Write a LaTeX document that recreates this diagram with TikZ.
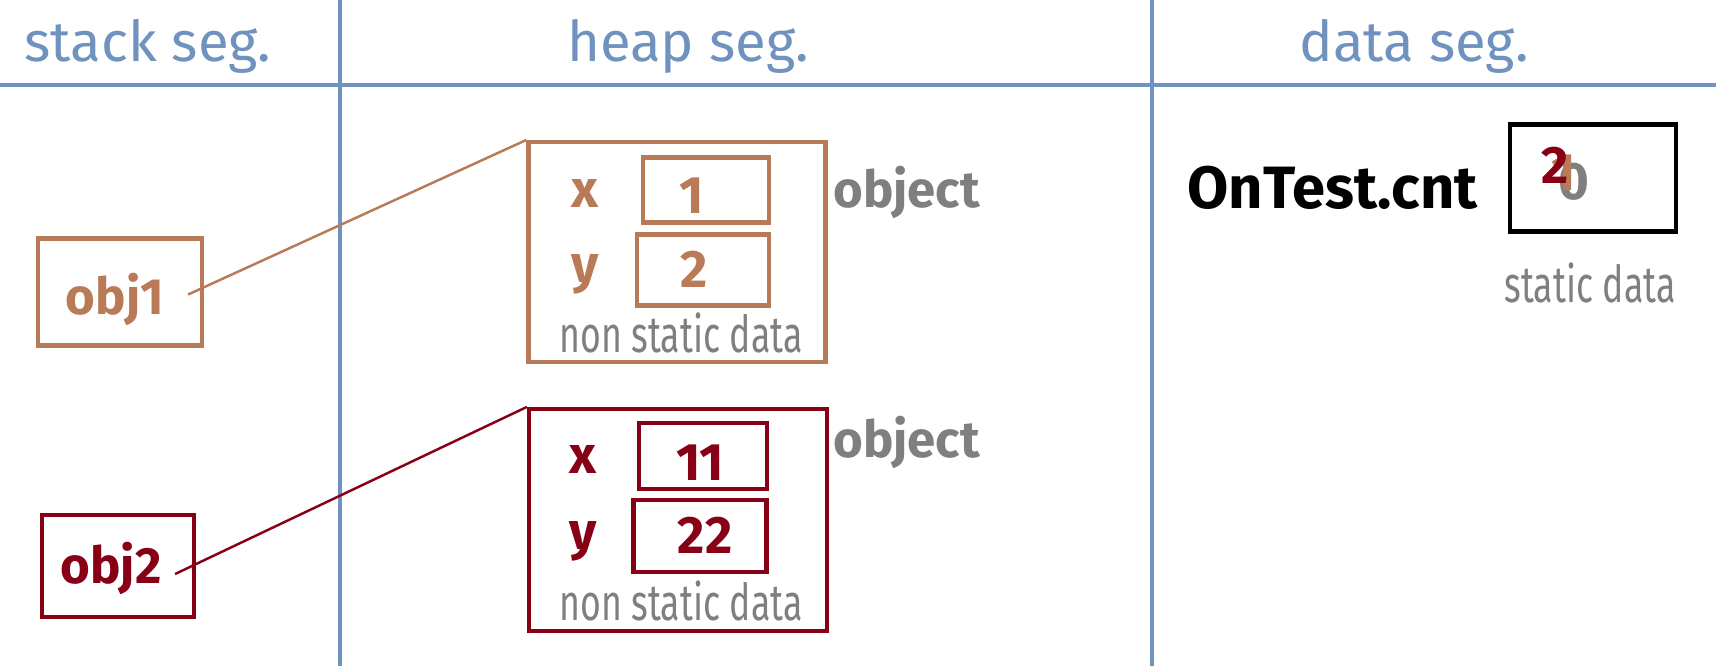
\documentclass[tikz,border=0pt]{standalone}
\usepackage{fontspec}
\setmainfont{Fira Sans}
\newfontfamily\narrowfont[FakeStretch=0.7]{Fira Sans}
\usetikzlibrary{positioning}
\definecolor{segblue}{RGB}{112,146,190}
\definecolor{objbrown}{RGB}{185,122,87}
\definecolor{objred}{RGB}{136,0,21}
\definecolor{notegray}{RGB}{127,127,127}
\tikzset{
  seghead/.style={text=segblue, anchor=base, inner sep=0pt, font=\fontsize{32}{32}\selectfont},
  segline/.style={draw=segblue, line width=2.2pt},
  boxed/.style={draw, line width=2.4pt, inner sep=0pt},
  bigtxt/.style={anchor=base, inner sep=0pt, font=\bfseries\fontsize{29}{29}\selectfont},
  valtxt/.style={anchor=base, inner sep=0pt, font=\bfseries\fontsize{30}{30}\selectfont},
  fldtxt/.style={anchor=base, inner sep=0pt, font=\bfseries\fontsize{30}{30}\selectfont},
  notetxt/.style={text=notegray, anchor=base, inner sep=0pt, font=\narrowfont\fontsize{29}{29}\selectfont},
  link/.style={line width=1.4pt}
}
\begin{document}
\begin{tikzpicture}[x=0.02cm, y=-0.02cm]
    \useasboundingbox (0,0) rectangle (1716,666);

    % Segments
    \draw[segline, line width=2.8pt] (0,85) -- (1716,85);
    \draw[segline] (340,0) -- (340,666);
    \draw[segline] (1152,0) -- (1152,666);
    \node[seghead] (stackhd) at (148,61) {stack seg.};
    \node[seghead] (heaphd) at (688,61) {heap seg.};
    \node[seghead] (datahd) at (1414,61) {data seg.};

    % Stack references
    \node[boxed, draw=objbrown, minimum width=3.28cm, minimum height=2.14cm] (obj1box) at (120,292) {};
    \node[bigtxt, text=objbrown] (obj1) at (115,314) {obj1};
    \node[boxed, draw=objred, minimum width=3.04cm, minimum height=2.04cm] (obj2box) at (118,566) {};
    \node[bigtxt, text=objred] (obj2) at (111,583) {obj2};

    % First object
    \node[boxed, draw=objbrown, minimum width=5.94cm, minimum height=4.4cm] (heapA) at (677,252) {};
    \node[boxed, draw=objbrown, minimum width=2.52cm, minimum height=1.3cm] (xA) at (706,190) {};
    \node[boxed, draw=objbrown, minimum width=2.64cm, minimum height=1.42cm] (yA) at (703,270) {};
    \node[valtxt, text=objbrown] (xAval) at (692,213) {1};
    \node[valtxt, text=objbrown] (yAval) at (694,287) {2};
    \node[fldtxt, text=objbrown] (xAlbl) at (585,207) {x};
    \node[fldtxt, text=objbrown] (yAlbl) at (585,282) {y};
    \node[notetxt] (nsA) at (681,352) {non static data};
    \node[bigtxt, text=notegray, anchor=base west] (objA) at (833,207) {object};

    % Second object
    \node[boxed, draw=objred, minimum width=5.96cm, minimum height=4.44cm] (heapB) at (678,520) {};
    \node[boxed, draw=objred, minimum width=2.56cm, minimum height=1.32cm] (xB) at (703,456) {};
    \node[boxed, draw=objred, minimum width=2.66cm, minimum height=1.44cm] (yB) at (700,536) {};
    \node[valtxt, text=objred] (xBval) at (700,480) {11};
    \node[valtxt, text=objred] (yBval) at (705,553) {22};
    \node[fldtxt, text=objred] (xBlbl) at (583,473) {x};
    \node[fldtxt, text=objred] (yBlbl) at (583,549) {y};
    \node[notetxt] (nsB) at (681,620) {non static data};
    \node[bigtxt, text=notegray, anchor=base west] (objB) at (833,457) {object};

    % References
    \draw[link, objbrown] ([xshift=-0.32cm, yshift=-0.05cm]obj1box.east) -- (heapA.north west);
    \draw[link, objred] ([xshift=-0.42cm, yshift=-0.16cm]obj2box.east) -- (heapB.north west);

    % Static data
    \node[bigtxt, anchor=base east, font=\bfseries\fontsize{34}{34}\selectfont] (cnt) at (1478,208) {OnTest.cnt};
    \node[boxed, draw=black, minimum width=3.32cm, minimum height=2.14cm] (cntbox) at (1593,178) {};
    \node[fldtxt, text=notegray] (cnt0) at (1574,199) {0};
    \node[valtxt, text=objbrown] (cnt1) at (1564,190) {1};
    \node[valtxt, text=objred] (cnt2) at (1555,183) {2};
    \node[notetxt] (stat) at (1590,302) {static data};

    \end{tikzpicture}
\end{document}
